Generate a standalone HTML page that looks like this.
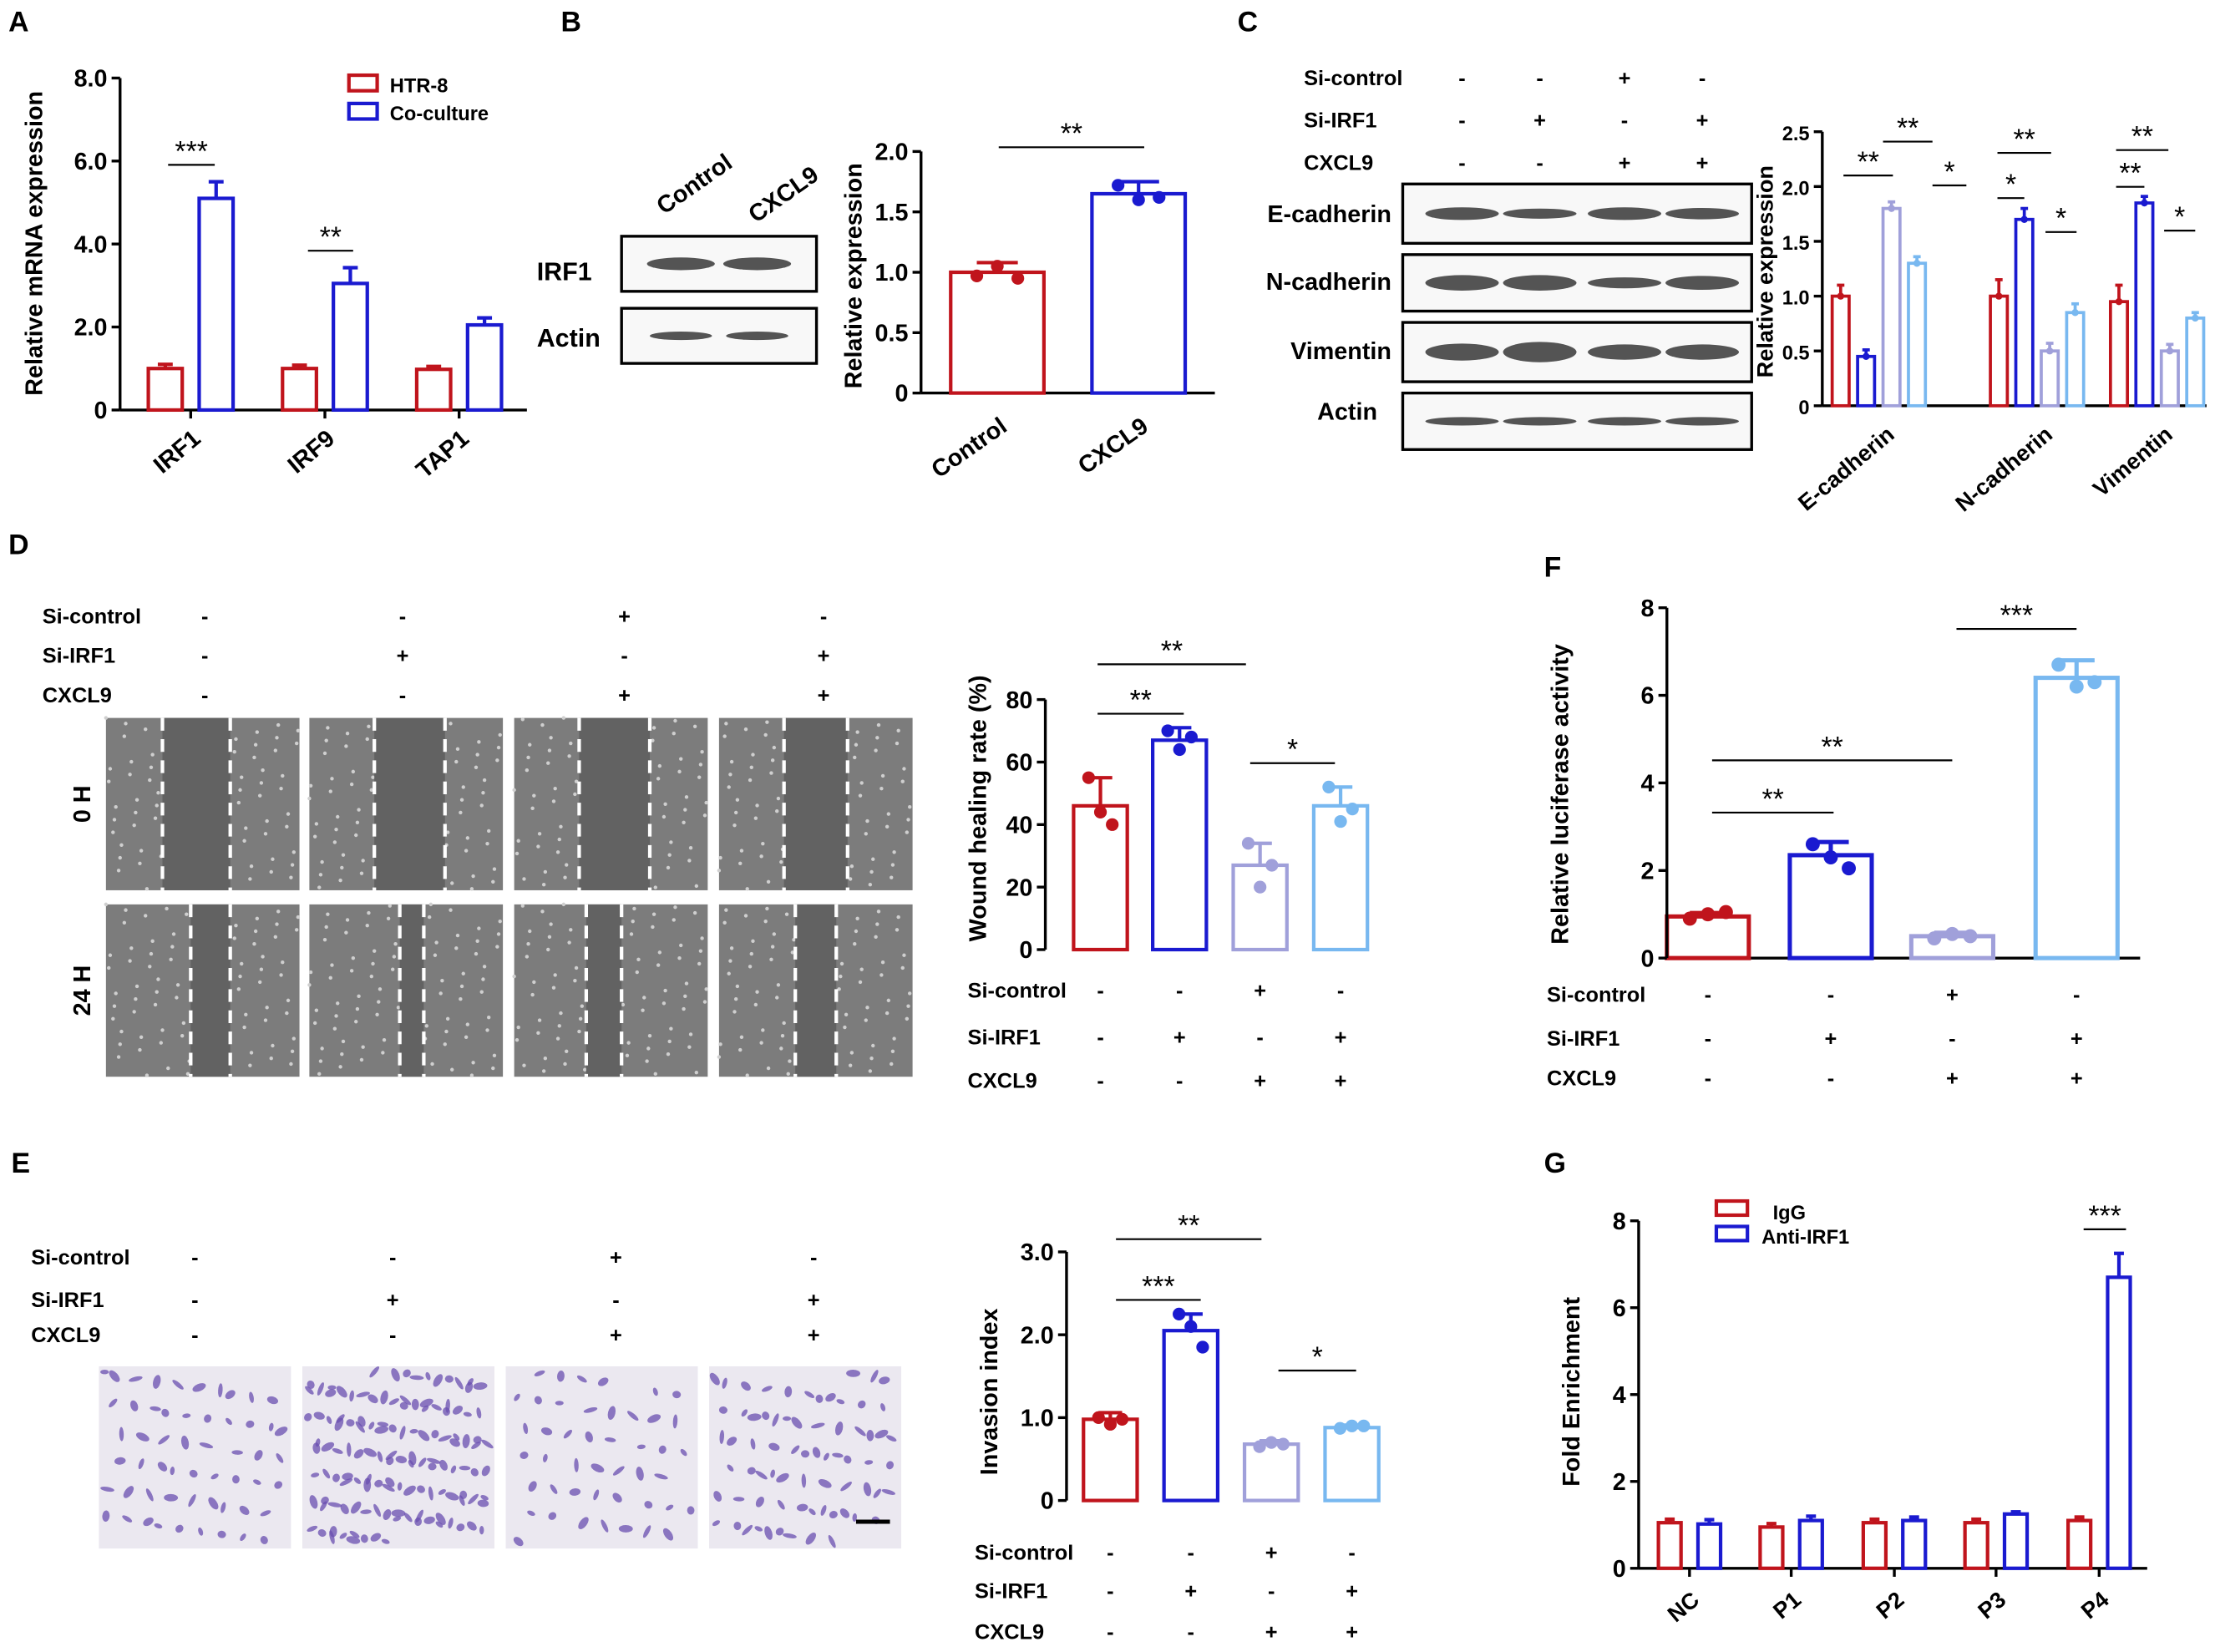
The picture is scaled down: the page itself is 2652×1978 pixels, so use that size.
<!DOCTYPE html>
<html><head><meta charset="utf-8"><style>
html,body{margin:0;padding:0;background:#fff;}
svg{display:block;font-family:"Liberation Sans",Arial,sans-serif;}
</style></head><body>
<svg id="fig" width="2652" height="1978" viewBox="0 0 1568 1169" xmlns="http://www.w3.org/2000/svg">
<rect width="1568" height="1169" fill="#fff"/>
<g id="static" font-weight="bold" font-size="16">
<text x="6" y="22" font-size="20">A</text>
<text x="397" y="22" font-size="20">B</text>
<text x="876" y="22" font-size="20">C</text>
<text x="6" y="392" font-size="20">D</text>
<text x="1093" y="408" font-size="20">F</text>
<text x="8" y="830" font-size="20">E</text>
<text x="1093" y="830" font-size="20">G</text>
</g>
<g id="plots"></g>
</svg>
<script>
const NS='http://www.w3.org/2000/svg';
const root=document.getElementById('plots');
function el(tag,attrs,parent,txt){const e=document.createElementNS(NS,tag);for(const k in attrs)e.setAttribute(k,attrs[k]);if(txt!==undefined)e.textContent=txt;(parent||root).appendChild(e);return e;}
const RED='#c0141c',BLUE='#1a1ad0',LAV='#a0a0da',LBLUE='#78b8f0';

// ---------- Data ----------
const aCats=['IRF1','IRF9','TAP1'];
const aHTR=[1.0,1.0,0.98];
const aHTRErr=[0.1,0.08,0.07];
const aCo=[5.1,3.05,2.05];
const aCoErr=[0.4,0.38,0.17];
const aTicks=['0','2.0','4.0','6.0','8.0'];

const bCats=['Control','CXCL9'];
const bVals=[1.0,1.65];
const bErr=[0.08,0.1];
const bDots=[[0.97,1.05,0.95],[1.72,1.6,1.62]];
const bTicks=['0','0.5','1.0','1.5','2.0'];

const cCats=['E-cadherin','N-cadherin','Vimentin'];
const cVals=[[1.0,0.45,1.8,1.3],[1.0,1.7,0.5,0.85],[0.95,1.85,0.5,0.8]];
const cErr=[[0.1,0.06,0.06,0.06],[0.15,0.1,0.07,0.08],[0.15,0.06,0.06,0.05]];
const cTicks=['0','0.5','1.0','1.5','2.0','2.5'];

const dVals=[46,67,27,46];
const dErr=[9,4,7,6];
const dDots=[[55,44,40],[70,64,68],[34,20,27],[52,41,45]];
const dTicks=['0','20','40','60','80'];

const fVals=[0.95,2.35,0.5,6.4];
const fErr=[0.08,0.3,0.08,0.4];
const fDots=[[0.9,1.0,1.05],[2.6,2.3,2.05],[0.45,0.55,0.5],[6.7,6.2,6.3]];
const fTicks=['0','2','4','6','8'];

const eVals=[0.98,2.05,0.68,0.88];
const eErr=[0.08,0.2,0.04,0.03];
const eDots=[[1.0,0.92,0.98],[2.25,2.1,1.85],[0.65,0.7,0.68],[0.87,0.9,0.9]];
const eTicks=['0','1.0','2.0','3.0'];

const gCats=['NC','P1','P2','P3','P4'];
const gIgG=[1.05,0.95,1.05,1.05,1.1];
const gAnti=[1.02,1.1,1.1,1.25,6.7];
const gErr=[0.1,0.1,0.08,0.05,0.55];
const gTicks=['0','2','4','6','8'];

// ---------- helpers ----------
function yScale(y0,yt,max){return v=>y0-v/max*(y0-yt);}
function yAxis(x,y0,yt,ticks,max,fs,name){
  const g=el('g',{});
  el('line',{x1:x,y1:y0,x2:x,y2:yt,stroke:'#000','stroke-width':2},g);
  const ys=yScale(y0,yt,max);
  ticks.forEach((t,i)=>{const v=i*max/(ticks.length-1);const yy=ys(v);
    el('line',{x1:x-6,y1:yy,x2:x,y2:yy,stroke:'#000','stroke-width':2},g);
    const tx=el('text',{x:x-9,y:yy+6,'text-anchor':'end','font-size':fs,'font-weight':'bold'},g,t);
    });
  return ys;
}
function bar(g,cx,w,y0,ys,v,err,col,sw){
  const r=el('rect',{x:cx-w/2,y:ys(v),width:w,height:y0-ys(v),fill:'#fff',stroke:col,'stroke-width':sw},g);
  
  if(err){const t=ys(v+err),bt=ys(Math.max(v-err,0));
    el('line',{x1:cx,y1:t,x2:cx,y2:Math.min(bt,ys(v)),stroke:col,'stroke-width':sw},g);
    el('line',{x1:cx-w*0.22,y1:t,x2:cx+w*0.22,y2:t,stroke:col,'stroke-width':sw},g);}
}
function dots(g,cx,w,ys,arr,col,r){arr.forEach((d,i)=>{const c=el('circle',{cx:cx+(i-1)*w*0.22,cy:ys(d),r:r,fill:col},g);
  });}
function sig(g,x1,x2,y,txt,fs){el('line',{x1:x1,y1:y,x2:x2,y2:y,stroke:'#000','stroke-width':1.3},g);el('text',{x:(x1+x2)/2,y:y-3,'text-anchor':'middle','font-size':fs||20},g,txt);}
function txt(g,x,y,s,fs,anchor,rot,name){const t=el('text',{x:x,y:y,'font-size':fs,'font-weight':'bold','text-anchor':anchor||'start',transform:rot?`rotate(${rot} ${x} ${y})`:''},g,s);return t;}
function signs(g,xs,ys,labels,lx,rows,fs){rows.forEach((row,ri)=>{txt(g,lx,ys[ri],labels[ri],fs,'start',0,'condition-label');row.forEach((s,i)=>txt(g,xs[i],ys[ri],s==='+'?'+':'-',fs,'middle',0,'condition-sign'));});}
const SIGNS=[['-','-','+','-'],['-','+','-','+'],['-','-','+','+']];
const SLAB=['Si-control','Si-IRF1','CXCL9'];

// ---------- Panel A ----------
(function(){const g=el('g',{});
 const y0=290,yt=55,ys=yAxis(85,y0,yt,aTicks,8,17,'panel-a-y-axis');
 el('line',{x1:85,y1:y0,x2:373,y2:y0,stroke:'#000','stroke-width':2},g);
 const cx=[135,230,325];
 aCats.forEach((c,i)=>{bar(g,cx[i]-18,24,y0,ys,aHTR[i],aHTRErr[i],RED,2.5);bar(g,cx[i]+18,24,y0,ys,aCo[i],aCoErr[i],BLUE,2.5);
   el('line',{x1:cx[i],y1:y0,x2:cx[i],y2:y0+6,stroke:'#000','stroke-width':2},g);
   txt(g,cx[i]+8,y0+22,c,17,'end',-40,'x-tick-label');});
 sig(g,119,152,ys(aCo[0]+aCoErr[0])-12,'***');sig(g,218,250,ys(aCo[1]+aCoErr[1])-12,'**');
 txt(g,30,172,'Relative mRNA expression',17,'middle',-90,'y-axis-title');
 el('rect',{x:247,y:53,width:20,height:11,fill:'none',stroke:RED,'stroke-width':2.5},g);txt(g,276,65,'HTR-8',14,'start',0,'legend-entry');
 el('rect',{x:247,y:73,width:20,height:11,fill:'none',stroke:BLUE,'stroke-width':2.5},g);txt(g,276,85,'Co-culture',14,'start',0,'legend-entry');
})();

// ---------- Blots ----------
function blot(g,x,y,w,h,lanes,bw,bh,dark){el('rect',{x:x,y:y,width:w,height:h,fill:'#f8f8f8',stroke:'#000','stroke-width':2},g);
 lanes.forEach((lx,i)=>{el('ellipse',{cx:lx,cy:y+h/2,rx:bw,ry:bh*(dark?dark[i]:1),fill:'#2a2a2a',opacity:0.8},g);});}
(function(){const g=el('g',{});
 txt(g,470,152,'Control',17,'start',-35,'lane-label');txt(g,535,158,'CXCL9',17,'start',-35,'lane-label');
 blot(g,440,167,138,39,[482,536],24,4.5);blot(g,440,218,138,39,[482,536],22,3);
 txt(g,380,198,'IRF1',18,'start',0,'blot-label');txt(g,380,245,'Actin',18,'start',0,'blot-label');
 const c=el('g',{});
 const L=[1035,1090,1150,1205];
 signs(c,L,[60,90,120],SLAB,923,SIGNS,15);
 blot(c,993,130,247,42,L,26,4.5,[1,0.8,1,0.9]);blot(c,993,180,247,40,L,26,5.5,[1,1,0.7,0.9]);
 blot(c,993,228,247,42,L,26,6,[1,1.2,0.9,0.9]);blot(c,993,278,247,40,L,26,3);
 txt(c,985,157,'E-cadherin',17,'end',0,'blot-label');txt(c,985,205,'N-cadherin',17,'end',0,'blot-label');
 txt(c,985,254,'Vimentin',17,'end',0,'blot-label');txt(c,975,297,'Actin',17,'end',0,'blot-label');
})();

// ---------- Panel B chart ----------
(function(){const g=el('g',{});
 const y0=278,yt=107,ys=yAxis(652,y0,yt,bTicks,2,17,'panel-b-y-axis');
 el('line',{x1:652,y1:y0,x2:860,y2:y0,stroke:'#000','stroke-width':2},g);
 const cx=[706,806],cols=[RED,BLUE];
 bCats.forEach((c,i)=>{bar(g,cx[i],66,y0,ys,bVals[i],bErr[i],cols[i],2.5);dots(g,cx[i],66,ys,bDots[i],cols[i],4.5);
  txt(g,cx[i]+8,y0+26,c,17,'end',-35,'x-tick-label');});
 sig(g,707,810,104,'**');
 txt(g,610,195,'Relative expression',17,'middle',-90,'y-axis-title');
})();

// ---------- Panel C chart ----------
(function(){const g=el('g',{});
 const y0=287,yt=93,ys=yAxis(1290,y0,yt,cTicks,2.5,14,'panel-c-y-axis');
 el('line',{x1:1290,y1:y0,x2:1562,y2:y0,stroke:'#000','stroke-width':2},g);
 const gx=[1330,1442,1527],cols=[RED,BLUE,LAV,LBLUE];
 cCats.forEach((c,i)=>{cVals[i].forEach((v,j)=>{const x=gx[i]+(j-1.5)*18;bar(g,x,12,y0,ys,v,cErr[i][j],cols[j],2.2);
    el('circle',{cx:x,cy:ys(v),r:2.5,fill:cols[j]},g);});
  txt(g,gx[i]+12,y0+22,c,16,'end',-40,'x-tick-label');});
 sig(g,1305,1340,124,'**');sig(g,1333,1368,100,'**');sig(g,1368,1392,131,'*');
 sig(g,1414,1433,140,'*');sig(g,1414,1452,108,'**');sig(g,1448,1470,164,'*');
 sig(g,1498,1518,132,'**');sig(g,1498,1535,106,'**');sig(g,1532,1554,163,'*');
 txt(g,1255,192,'Relative expression',16,'middle',-90,'y-axis-title');
})();

// ---------- Panel D images ----------
(function(){const g=el('g',{});
 const X=[145,285,442,583];signs(g,X,[441,469,497],SLAB,30,SIGNS,15);
 const cols=[75,219,364,509],w=137;
 const l0=[[115,163],[265,315],[410,460],[555,600]],l1=[[135,163],[283,300],[415,440],[563,592]];
 [[508,122,l0,'0 H'],[640,122,l1,'24 H']].forEach(([y,h,ls,lab])=>{cols.forEach((x,i)=>{
   el('rect',{x:x,y:y,width:w,height:h,fill:'#7c7c7c'},g);
   for(let k=0;k<90;k++){const px=x+((k*37+i*13)%w),py=y+((k*53+i*7)%h);
     if(px<ls[i][0]||px>ls[i][1]) el('circle',{cx:px,cy:py,r:1.3,fill:'#cfcfcf'},g);}
   el('rect',{x:ls[i][0],y:y,width:ls[i][1]-ls[i][0],height:h,fill:'#626262'},g);
   ls[i].forEach(lx=>el('line',{x1:lx,y1:y,x2:lx,y2:y+h,stroke:'#fff','stroke-width':2.5,'stroke-dasharray':'9 6'},g));});
  txt(g,64,y+h/2,lab,17,'middle',-90,'timepoint-label');});
})();

// ---------- Panel D chart ----------
(function(){const g=el('g',{});
 const y0=672,yt=495,ys=yAxis(740,y0,yt,dTicks,80,17,'panel-d-y-axis');
 const cx=[779,835,892,949],cols=[RED,BLUE,LAV,LBLUE];
 dVals.forEach((v,i)=>{bar(g,cx[i],38,y0,ys,v,dErr[i],cols[i],2.5);dots(g,cx[i],38,ys,dDots[i],cols[i],4.5);});
 sig(g,777,838,505,'**');sig(g,777,882,470,'**');sig(g,885,945,540,'*');
 txt(g,698,572,'Wound healing rate (%)',17,'middle',-90,'y-axis-title');
 signs(g,cx,[706,739,770],SLAB,685,SIGNS,15);
})();

// ---------- Panel F chart ----------
(function(){const g=el('g',{});
 const y0=678,yt=430,ys=yAxis(1180,y0,yt,fTicks,8,17,'panel-f-y-axis');
 el('line',{x1:1180,y1:y0,x2:1515,y2:y0,stroke:'#000','stroke-width':2},g);
 const cx=[1209,1296,1382,1470],cols=[RED,BLUE,LAV,LBLUE];
 fVals.forEach((v,i)=>{bar(g,cx[i],58,y0,ys,v,fErr[i],cols[i],3);dots(g,cx[i],58,ys,fDots[i],cols[i],5);});
 sig(g,1212,1298,575,'**');sig(g,1212,1382,538,'**');sig(g,1385,1470,445,'***');
 txt(g,1110,562,'Relative luciferase activity',17,'middle',-90,'y-axis-title');
 signs(g,cx,[709,740,768],SLAB,1095,SIGNS,15);
})();

// ---------- Panel E images ----------
(function(){const g=el('g',{});
 const X=[138,278,436,576];signs(g,X,[895,925,950],SLAB,22,SIGNS,15);
 const cols=[70,214,358,502],dens=[55,130,45,70];
 cols.forEach((x,i)=>{el('rect',{x:x,y:967,width:136,height:129,fill:'#ebe8f0'},g);
  for(let k=0;k<dens[i];k++){const px=x+4+((k*41+i*17)%128),py=971+((k*67+i*11)%121);
   el('ellipse',{cx:px,cy:py,rx:3+(k%3),ry:1.6+(k%2),fill:'#6a4fb0',opacity:0.75,transform:`rotate(${(k*47)%180} ${px} ${py})`},g);}});
 el('line',{x1:606,y1:1077,x2:630,y2:1077,stroke:'#000','stroke-width':3},g);
})();

// ---------- Panel E chart ----------
(function(){const g=el('g',{});
 const y0=1062,yt=886,ys=yAxis(755,y0,yt,eTicks,3,17,'panel-e-y-axis');
 const cx=[786,843,900,957],cols=[RED,BLUE,LAV,LBLUE];
 eVals.forEach((v,i)=>{bar(g,cx[i],38,y0,ys,v,eErr[i],cols[i],2.5);dots(g,cx[i],38,ys,eDots[i],cols[i],4.5);});
 sig(g,790,850,920,'***');sig(g,790,893,877,'**');sig(g,905,960,970,'*');
 txt(g,706,985,'Invasion index',17,'middle',-90,'y-axis-title');
 signs(g,cx,[1104,1131,1160],SLAB,690,SIGNS,15);
})();

// ---------- Panel G chart ----------
(function(){const g=el('g',{});
 const y0=1110,yt=864,ys=yAxis(1160,y0,yt,gTicks,8,17,'panel-g-y-axis');
 el('line',{x1:1160,y1:y0,x2:1520,y2:y0,stroke:'#000','stroke-width':2},g);
 const cx=[1196,1268,1341,1413,1486];
 gCats.forEach((c,i)=>{bar(g,cx[i]-14,16,y0,ys,gIgG[i],0.08,RED,2.5);bar(g,cx[i]+14,16,y0,ys,gAnti[i],gErr[i],BLUE,2.5);
  el('line',{x1:cx[i],y1:y0,x2:cx[i],y2:y0+6,stroke:'#000','stroke-width':2},g);
  txt(g,cx[i]+8,y0+24,c,16,'end',-40,'x-tick-label');});
 sig(g,1475,1505,870,'***');
 txt(g,1118,985,'Fold Enrichment',17,'middle',-90,'y-axis-title');
 el('rect',{x:1215,y:850,width:22,height:10,fill:'none',stroke:RED,'stroke-width':2.5},g);txt(g,1255,863,'IgG',14,'start',0,'legend-entry');
 el('rect',{x:1215,y:868,width:22,height:10,fill:'none',stroke:BLUE,'stroke-width':2.5},g);txt(g,1247,880,'Anti-IRF1',14,'start',0,'legend-entry');
})();
</script>
</body></html>
